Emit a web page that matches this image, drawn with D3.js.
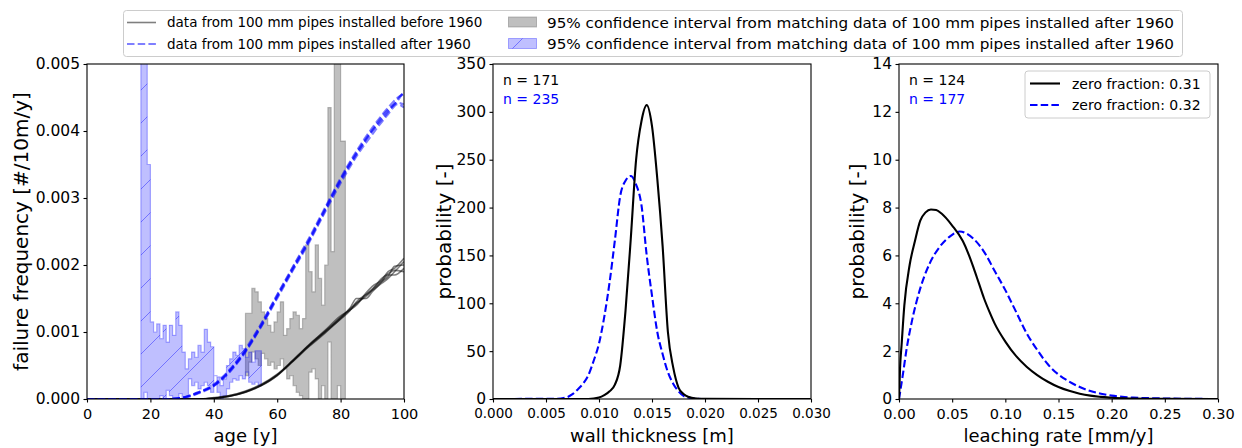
<!DOCTYPE html>
<html>
<head>
<meta charset="utf-8">
<script src="https://cdn.jsdelivr.net/npm/d3@7"></script>
<style>
body { margin: 0; background: #fff; }
text { font-family: "DejaVu Sans", sans-serif; }
</style>
</head>
<body>
<svg id="fig" width="1242" height="448"></svg>
<script>
// ---- left panel: failure frequency (values in 1e-3 #/10m/y) ----
const blkAges = [0, 30, 35, 40, 45, 50, 55, 60, 65, 70, 75, 80, 83, 85, 88, 90, 93, 95, 97, 100];
const blkRuns = [
    [0, 0, 0, 0.01, 0.04, 0.10, 0.20, 0.35, 0.56, 0.78, 0.98, 1.20, 1.33, 1.42, 1.55, 1.62, 1.73, 1.80, 1.90, 2.05],
    [0, 0, 0, 0.01, 0.05, 0.12, 0.22, 0.37, 0.58, 0.80, 1.00, 1.22, 1.36, 1.50, 1.50, 1.60, 1.75, 1.85, 1.85, 1.95],
    [0, 0, 0, 0.01, 0.04, 0.11, 0.21, 0.36, 0.57, 0.80, 1.02, 1.24, 1.33, 1.40, 1.58, 1.68, 1.78, 1.90, 1.95, 2.10],
    [0, 0, 0, 0.02, 0.05, 0.11, 0.21, 0.36, 0.57, 0.79, 0.99, 1.19, 1.32, 1.45, 1.56, 1.64, 1.76, 1.83, 1.98, 2.00],
    [0, 0, 0, 0.01, 0.04, 0.10, 0.20, 0.35, 0.58, 0.81, 1.01, 1.21, 1.35, 1.43, 1.53, 1.63, 1.80, 1.87, 1.92, 1.90]
];
const blueAges = [0, 25, 30, 35, 40, 45, 50, 55, 60, 65, 70, 75, 80, 85, 90, 95, 98, 100];
const blueRuns = [
    [0, 0, 0.02, 0.09, 0.20, 0.42, 0.72, 1.10, 1.53, 1.95, 2.35, 2.80, 3.25, 3.65, 4.00, 4.30, 4.45, 4.60],
    [0, 0, 0.02, 0.10, 0.22, 0.44, 0.75, 1.13, 1.56, 1.98, 2.40, 2.85, 3.30, 3.70, 4.05, 4.35, 4.50, 4.55],
    [0, 0, 0.01, 0.08, 0.19, 0.40, 0.70, 1.08, 1.50, 1.92, 2.33, 2.78, 3.22, 3.62, 3.95, 4.25, 4.40, 4.35],
    [0, 0, 0.02, 0.09, 0.21, 0.43, 0.73, 1.12, 1.55, 1.97, 2.38, 2.83, 3.28, 3.68, 4.02, 4.32, 4.42, 4.40],
    [0, 0, 0.02, 0.10, 0.20, 0.41, 0.71, 1.09, 1.52, 1.94, 2.36, 2.82, 3.27, 3.66, 4.00, 4.28, 4.48, 4.58]
];
// 95% bands, one value per year of age
const blueBandStart = 17;
const blueBandHi = [6, 6, 3.5, 1.15, 1.0, 1.12, 0.9, 1.1, 0.85, 1.1, 0.95, 1.3, 1.1, 0.7, 0.45, 0.6, 0.7, 0.62, 0.8, 0.7,
    1.04, 0.85, 0.78, 0.35, 0.33, 0.2, 0.3, 0.5, 0.6, 0.7, 0.65, 0.8, 0.75, 0.62, 0.7, 0.55, 0.72, 0.72];
const blueBandLo = [0, 0.1, 0, 0, 0, 0, 0.05, 0, 0.13, 0.05, 0, 0, 0.08, 0, 0.03, 0.3, 0.2, 0.25, 0.15, 0.2,
    0.25, 0.2, 0.1, 0.35, 0.1, 0, 0.05, 0.15, 0.25, 0.3, 0.28, 0.35, 0.3, 0.4, 0.25, 0.22, 0.25, 0.2];
const grayBandStart = 50;
const grayBandHi = [1.28, 1.28, 1.65, 1.6, 1.45, 1.3, 1.2, 1.1, 1.0, 1.15, 1.3, 1.45, 0.95, 1.05, 1.2, 1.3,
    1.25, 1.05, 1.2, 2.3, 1.9, 1.6, 2.3, 1.8, 1.4, 2.0, 4.35, 2.2, 6, 6, 3.85, 3.85];
const grayBandLo = [0.35, 0.55, 0.7, 0.6, 0.5, 0.68, 0.6, 0.5, 0.55, 0.45, 0.5, 0.6, 0.45, 0.3, 0.35, 0.2,
    0.1, 0.05, 0, 0, 0.4, 0.45, 0.3, 0, 0.2, 0, 0.85, 0, 0, 0.2, 0, 0];
const grayBandEnd = 81.5;

// ---- middle panel: wall thickness pdf ----
const wallX = [0, 0.009, 0.0100, 0.0105, 0.0110, 0.0115, 0.0120, 0.0125, 0.0130, 0.0135, 0.0140, 0.0145,
    0.0150, 0.0155, 0.0160, 0.0165, 0.0170, 0.0175, 0.0180, 0.0185, 0.0190, 0.0200, 0.030];
const wallBefore = [0, 0, 1.5, 4, 8, 15, 35, 92, 168, 250, 290, 307, 285, 230, 160, 70, 33, 12, 5, 2, 0.7, 0.1, 0];
const wallAfterX = [0, 0.006, 0.007, 0.0075, 0.008, 0.0085, 0.009, 0.0095, 0.010, 0.0105, 0.011, 0.0115, 0.012,
    0.0125, 0.013, 0.0135, 0.014, 0.0145, 0.015, 0.0155, 0.016, 0.0165, 0.017, 0.0175, 0.018, 0.019, 0.020, 0.030];
const wallAfter = [0, 0.3, 2, 5, 10, 16, 25, 40, 58, 86, 122, 166, 212, 228, 233, 224, 203, 150, 108, 70, 47,
    28, 16, 8, 3, 0.5, 0, 0];
const wallN = ["n = 171", "n = 235"];

// ---- right panel: leaching rate pdf ----
const leachX = [0, 0.001, 0.0025, 0.005, 0.01, 0.015, 0.02, 0.025, 0.03, 0.035, 0.04, 0.05, 0.06, 0.065, 0.07,
    0.075, 0.08, 0.085, 0.09, 0.10, 0.11, 0.12, 0.13, 0.14, 0.15, 0.16, 0.17, 0.18, 0.19, 0.20, 0.22, 0.25, 0.30];
const leachBefore = [0, 1.3, 2.3, 3.9, 5.6, 6.6, 7.45, 7.8, 7.92, 7.9, 7.75, 7.25, 6.6, 6.1, 5.5,
    4.85, 4.2, 3.65, 3.15, 2.4, 1.8, 1.35, 1.0, 0.72, 0.5, 0.34, 0.22, 0.14, 0.09, 0.05, 0.02, 0.005, 0];
const leachAfterX = [0, 0.0038, 0.007, 0.0117, 0.0195, 0.0289, 0.0383, 0.048, 0.057, 0.07, 0.08, 0.09, 0.10,
    0.11, 0.12, 0.13, 0.14, 0.15, 0.16, 0.17, 0.18, 0.19, 0.20, 0.21, 0.22, 0.24, 0.27, 0.30];
const leachAfter = [0, 1.07, 2.05, 3.16, 4.55, 5.67, 6.36, 6.8, 7.0, 6.7, 6.15, 5.35, 4.55, 3.65, 2.75, 2.05, 1.45,
    1.02, 0.73, 0.5, 0.33, 0.22, 0.14, 0.09, 0.06, 0.03, 0.01, 0];
const leachN = ["n = 124", "n = 177"];
const leachLegend = ["zero fraction: 0.31", "zero fraction: 0.32"];

const legendLabels = [
    "data from 100 mm pipes installed before 1960",
    "data from 100 mm pipes installed after 1960",
    "95% confidence interval from matching data of 100 mm pipes installed after 1960",
    "95% confidence interval from matching data of 100 mm pipes installed after 1960"
];

const svg = d3.select("#fig");
const axTop = 64, axBottom = 399;
const dash = "7.5,3.2";

const defs = svg.append("defs");
defs.append("pattern")
    .attr("id", "hatch")
    .attr("patternUnits", "userSpaceOnUse")
    .attr("width", 33).attr("height", 33)
    .append("path")
    .attr("d", "M-4,4 L4,-4 M0,33 L33,0 M29,37 L37,29")
    .attr("stroke", "rgba(0,0,255,0.4)")
    .attr("stroke-width", 1);

function makeAxes(o) {
    const x = d3.scaleLinear().domain(o.xDomain).range([o.x0, o.x1]);
    const y = d3.scaleLinear().domain(o.yDomain).range([axBottom, axTop]);
    const g = svg.append("g");
    defs.append("clipPath").attr("id", o.id)
        .append("rect").attr("x", o.x0).attr("y", axTop)
        .attr("width", o.x1 - o.x0).attr("height", axBottom - axTop);
    const plot = g.append("g").attr("clip-path", `url(#${o.id})`);

    const gx = g.append("g")
        .attr("transform", `translate(0,${axBottom})`)
        .call(d3.axisBottom(x).tickValues(o.xTicks).tickFormat(o.xFmt).tickSize(3.5).tickPadding(6));
    const gy = g.append("g")
        .attr("transform", `translate(${o.x0},0)`)
        .call(d3.axisLeft(y).tickValues(o.yTicks).tickFormat(o.yFmt).tickSize(3.5).tickPadding(3.5));
    [gx, gy].forEach(a => {
        a.select(".domain").remove();
        a.selectAll("line").attr("stroke", "#000").attr("stroke-width", 1.1);
        a.selectAll("text").style("fill", "#000");
    });
    gx.selectAll("text").style("font-size", o.xTickSize + "px");
    gy.selectAll("text").style("font-size", "15.5px");

    g.append("text")
        .attr("x", (o.x0 + o.x1) / 2).attr("y", 442)
        .attr("text-anchor", "middle")
        .style("font-size", "18px")
        .text(o.xLabel);
    g.append("text")
        .attr("transform", `translate(${o.yLabelX},${(axTop + axBottom) / 2}) rotate(-90)`)
        .attr("text-anchor", "middle")
        .attr("dy", "0.35em")
        .style("font-size", "20px")
        .text(o.yLabel);

    return { x, y, g, plot, x0: o.x0, x1: o.x1 };
}

function frame(ax) {
    ax.g.append("rect")
        .attr("x", ax.x0).attr("y", axTop)
        .attr("width", ax.x1 - ax.x0).attr("height", axBottom - axTop)
        .attr("fill", "none").attr("stroke", "#000").attr("stroke-width", 1.1);
}

// ================= left =================
const axL = makeAxes({
    x0: 87, x1: 404, xDomain: [0, 100], yDomain: [0, 5],
    xTicks: [0, 20, 40, 60, 80, 100], yTicks: [0, 1, 2, 3, 4, 5],
    xFmt: d3.format("d"), yFmt: d => (d / 1000).toFixed(3), xTickSize: 14.5,
    xLabel: "age [y]", yLabel: "failure frequency [#/10m/y]", yLabelX: 21, id: "clipL"
});

function bandRows(start, hi, lo, end) {
    const rows = hi.map((h, i) => ({ a: start + i, hi: h, lo: lo[i] }));
    rows.push({ a: end !== undefined ? end : start + hi.length, hi: hi[hi.length - 1], lo: lo[lo.length - 1] });
    return rows;
}
const band = d3.area()
    .curve(d3.curveStepAfter)
    .x(d => axL.x(d.a))
    .y0(d => axL.y(d.lo))
    .y1(d => axL.y(d.hi));

const grayRows = bandRows(grayBandStart, grayBandHi, grayBandLo, grayBandEnd);
const blueRows = bandRows(blueBandStart, blueBandHi, blueBandLo);

axL.plot.append("path").datum(grayRows)
    .attr("d", band)
    .attr("fill", "rgba(128,128,128,0.5)")
    .attr("stroke", "rgba(110,110,110,0.45)")
    .attr("stroke-width", 1.2);
axL.plot.append("path").datum(blueRows)
    .attr("d", band)
    .attr("fill", "rgba(0,0,255,0.25)")
    .attr("stroke", "rgba(0,0,255,0.3)")
    .attr("stroke-width", 1.2);
axL.plot.append("path").datum(blueRows)
    .attr("d", band)
    .attr("fill", "url(#hatch)");

const runLine = ages => d3.line()
    .curve(d3.curveMonotoneX)
    .x((d, i) => axL.x(ages[i]))
    .y(d => axL.y(d));

axL.plot.selectAll(".blk").data(blkRuns).enter().append("path")
    .attr("d", runLine(blkAges))
    .attr("fill", "none")
    .attr("stroke", "rgba(0,0,0,0.5)")
    .attr("stroke-width", 1.6);
axL.plot.selectAll(".blu").data(blueRuns).enter().append("path")
    .attr("d", runLine(blueAges))
    .attr("fill", "none")
    .attr("stroke", "rgba(0,0,255,0.5)")
    .attr("stroke-width", 2)
    .attr("stroke-dasharray", dash);
frame(axL);

// ================= middle =================
const axM = makeAxes({
    x0: 493, x1: 811, xDomain: [0, 0.03], yDomain: [0, 350],
    xTicks: [0, 0.005, 0.01, 0.015, 0.02, 0.025, 0.03], yTicks: [0, 50, 100, 150, 200, 250, 300, 350],
    xFmt: d3.format(".3f"), yFmt: d3.format("d"), xTickSize: 13.5,
    xLabel: "wall thickness [m]", yLabel: "probability [-]", yLabelX: 444, id: "clipM"
});

function pdfLine(ax, xs, ys, color, dashed) {
    const line = d3.line().curve(d3.curveMonotoneX)
        .x((d, i) => ax.x(xs[i]))
        .y(d => ax.y(d));
    ax.plot.append("path").datum(ys)
        .attr("d", line)
        .attr("fill", "none")
        .attr("stroke", color)
        .attr("stroke-width", 2.1)
        .attr("stroke-dasharray", dashed ? dash : null);
}
pdfLine(axM, wallAfterX, wallAfter, "#0000ff", true);
pdfLine(axM, wallX, wallBefore, "#000", false);
frame(axM);

function nLabels(ax, labels) {
    labels.forEach((t, i) => {
        ax.g.append("text")
            .attr("x", ax.x0 + 10).attr("y", 85 + i * 19)
            .style("font-size", "14px")
            .style("fill", i === 0 ? "#000" : "#0000ff")
            .text(t);
    });
}
nLabels(axM, wallN);

// ================= right =================
const axR = makeAxes({
    x0: 899, x1: 1218, xDomain: [0, 0.3], yDomain: [0, 14],
    xTicks: [0, 0.05, 0.1, 0.15, 0.2, 0.25, 0.3], yTicks: [0, 2, 4, 6, 8, 10, 12, 14],
    xFmt: d3.format(".2f"), yFmt: d3.format("d"), xTickSize: 14.5,
    xLabel: "leaching rate [mm/y]", yLabel: "probability [-]", yLabelX: 857, id: "clipR"
});
pdfLine(axR, leachAfterX, leachAfter, "#0000ff", true);
pdfLine(axR, leachX, leachBefore, "#000", false);
frame(axR);
nLabels(axR, leachN);

const lg = axR.g.append("g");
lg.append("rect")
    .attr("x", 1025).attr("y", 71).attr("width", 185).attr("height", 47)
    .attr("rx", 3)
    .attr("fill", "rgba(255,255,255,0.8)").attr("stroke", "#cccccc");
leachLegend.forEach((t, i) => {
    const yy = 83.5 + i * 21.5;
    lg.append("line")
        .attr("x1", 1030).attr("x2", 1060).attr("y1", yy).attr("y2", yy)
        .attr("stroke", i === 0 ? "#000" : "#0000ff")
        .attr("stroke-width", 2.1)
        .attr("stroke-dasharray", i === 0 ? null : dash);
    lg.append("text")
        .attr("x", 1072).attr("y", yy).attr("dy", "0.36em")
        .style("font-size", "14px")
        .text(t);
});

// ================= top legend =================
const tl = svg.append("g");
tl.append("rect")
    .attr("x", 123.5).attr("y", 10.5).attr("width", 1059).attr("height", 46)
    .attr("rx", 3)
    .attr("fill", "rgba(255,255,255,0.8)").attr("stroke", "#cccccc");
const rowY = [22.5, 44];
tl.append("line").attr("x1", 127).attr("x2", 156).attr("y1", rowY[0]).attr("y2", rowY[0])
    .attr("stroke", "rgba(0,0,0,0.5)").attr("stroke-width", 1.6);
tl.append("line").attr("x1", 127).attr("x2", 156).attr("y1", rowY[1]).attr("y2", rowY[1])
    .attr("stroke", "rgba(0,0,255,0.5)").attr("stroke-width", 2).attr("stroke-dasharray", dash);
tl.append("rect").attr("x", 508.5).attr("y", rowY[0] - 5.5).attr("width", 28).attr("height", 10)
    .attr("fill", "rgba(128,128,128,0.5)").attr("stroke", "rgba(110,110,110,0.45)");
tl.append("rect").attr("x", 508.5).attr("y", rowY[1] - 5.5).attr("width", 28).attr("height", 10)
    .attr("fill", "rgba(0,0,255,0.25)").attr("stroke", "rgba(0,0,255,0.3)");
tl.append("rect").attr("x", 508.5).attr("y", rowY[1] - 5.5).attr("width", 28).attr("height", 10)
    .attr("fill", "url(#hatch)");
legendLabels.forEach((t, i) => {
    const txt = tl.append("text")
        .attr("x", i < 2 ? 167 : 547)
        .attr("y", rowY[i % 2]).attr("dy", "0.36em")
        .style("font-size", i < 2 ? "13.5px" : "14.2px")
        .text(t);
    if (i >= 2) txt.attr("textLength", 627).attr("lengthAdjust", "spacingAndGlyphs");
});
</script>
</body>
</html>
